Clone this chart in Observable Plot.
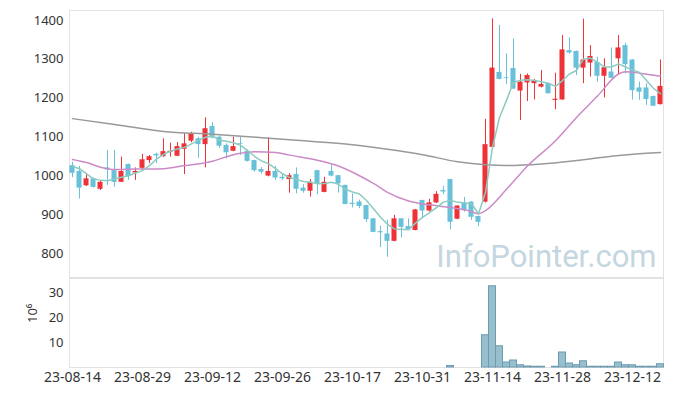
<!DOCTYPE html>
<html>
<head>
<meta charset="utf-8">
<script src="https://cdn.jsdelivr.net/npm/d3@7"></script>
<script src="https://cdn.jsdelivr.net/npm/@observablehq/plot@0.6"></script>
<style>
  html, body { margin: 0; padding: 0; background: #fff; }
  #chart { width: 673px; height: 396px; position: relative; overflow: hidden; }
  #chart svg { display: block; }
</style>
</head>
<body>
<div id="chart"></div>
<script>
// ---- data ----
const tickIdx = [0, 10, 20, 30, 40, 50, 60, 70, 80];
const tickLabels = ["23-08-14", "23-08-29", "23-09-12", "23-09-26", "23-10-17", "23-10-31", "23-11-14", "23-11-28", "23-12-12"];
const priceTicks = [800, 900, 1000, 1100, 1200, 1300, 1400];
const volTicks = [10, 20, 30];

const open  = [1026,1011,974,992,965,1020,1013,983,1029,1007,1019,1039,1055,1049,1060,1050,1068,1089,1095,1080,1127,1099,1078,1063,1083,1063,1039,1016,999,1011,996,990,1003,968,960,1013,957,1011,1000,975,929,932,923,889,856,850,831,889,869,859,936,909,930,962,990,888,930,932,895,932,1073,1266,1252,1276,1218,1239,1237,1228,1237,1194,1195,1322,1320,1277,1290,1292,1256,1267,1301,1335,1298,1226,1226,1204,1183];
const high  = [1035,1024,1006,994,988,1065,1065,1048,1030,1020,1055,1052,1058,1095,1084,1085,1109,1112,1099,1149,1137,1102,1082,1099,1099,1066,1040,1021,1098,1024,1005,1005,1020,977,990,1014,996,1028,1001,976,953,937,924,890,870,885,898,890,889,913,937,939,959,973,991,923,944,933,896,1145,1404,1387,1314,1352,1261,1262,1248,1271,1238,1264,1361,1355,1321,1403,1335,1305,1301,1329,1361,1341,1299,1241,1237,1205,1298];
const low   = [995,940,972,968,962,975,970,982,988,988,1012,1031,1031,1048,1048,1049,1003,1085,1045,1020,1095,1070,1043,1062,1052,1035,1009,1004,997,988,988,955,953,955,945,951,956,997,955,925,917,915,880,853,815,790,830,840,860,858,889,907,928,951,861,887,906,885,869,930,1070,1247,1235,1222,1142,1191,1195,1226,1210,1170,1194,1313,1258,1237,1254,1241,1200,1250,1258,1262,1195,1194,1181,1178,1182];
const close = [1006,968,992,970,983,1015,983,1011,998,1011,1041,1049,1051,1062,1063,1075,1082,1108,1080,1121,1097,1076,1059,1075,1081,1037,1013,1009,1011,994,992,1000,965,960,983,979,983,999,979,926,926,921,887,854,853,831,889,867,861,912,909,930,952,958,880,922,910,893,880,1080,1277,1248,1250,1223,1241,1258,1245,1235,1211,1197,1324,1316,1277,1298,1307,1256,1278,1251,1329,1286,1219,1215,1196,1179,1230];
// volume in millions (10^6)
const volume = [0,0,0,0,0,0,0,0,0,0,0,0,0,0,0,0,0,0,0,0,0,0,0,0,0,0,0,0,0,0,0,0,0,0,0,0,0,0,0,0,0,0,0,0,0,0,0,0,0,0,0,0,0,0,0.6,0,0,0,0,12.9,32.5,8.5,2.0,2.8,0.9,0.4,0.3,0.3,0,0.3,6.0,1.6,0.9,2.5,0.3,0.3,0.3,0.3,2.0,0.9,0.9,0.3,0.3,0.3,1.3];

const ma5 = [1024,1018,1005,992,988,987,992,996,1000,1007,1013,1026,1043,1055,1063,1069,1073,1082,1091,1099,1103,1091,1089,1085,1078,1065,1050,1038,1031,1018,1005,995,990,985,983,979,980,983,978,965,958,953,936,915,893,875,863,862,861,878,893,905,918,932,936,932,930,928,902,957,1073,1150,1194,1240,1246,1247,1245,1242,1238,1230,1245,1262,1271,1300,1303,1292,1280,1280,1288,1280,1272,1266,1245,1225,1211];
const ma20Idx = [0,2,4,6,9,13,16,20,22,24,26,29,31,35,38,41,43,45,48,51,54,57,58,59,62,65,69,72,75,78,79,81,84];
const ma20Val = [1042,1034,1022,1016,1017,1018,1026,1037,1049,1058,1062,1060,1053,1040,1025,1000,980,957,935,925,918,908,902,910,965,1025,1090,1150,1205,1262,1268,1264,1256];
const ma120Idx = [0,6,13,20,27,32,40,45,50,55,59,62,67,72,77,82,84];
const ma120Val = [1147,1132,1114,1107,1098,1091,1080,1068,1054,1036,1028,1026,1030,1039,1050,1058,1060];

// ---- styles ----
const UP = "#ee3338", DOWN = "#68c1d8";
const FONT = "'Noto Sans', 'DejaVu Sans', sans-serif";
const W = 673;
const xDomain = [-0.43, 84.43];

const candles = open.map((o, i) => ({i, o, h: high[i], l: low[i], c: close[i]}));
const vols = volume.map((v, i) => ({i, v})).filter(d => d.v > 0);
const ma5Data = ma5.map((v, i) => ({i, v}));
const ma20Data = ma20Idx.map((i, k) => ({i, v: ma20Val[k]}));
const ma120Data = ma120Idx.map((i, k) => ({i, v: ma120Val[k]}));
const crossMain = d3.cross(tickIdx, priceTicks);
const crossVol = d3.cross(tickIdx, volTicks);
const col = d => d.c >= d.o ? UP : DOWN;
const xFmt = d => tickLabels[tickIdx.indexOf(d)];
const hasAxisMarks = typeof Plot.axisX === "function";

const main = Plot.plot({
  width: W, height: 278,
  marginTop: 10, marginBottom: 1, marginLeft: 69, marginRight: 10,
  style: {fontFamily: FONT, fontSize: "13px", color: "#333", background: "#fff"},
  x: {domain: xDomain, axis: null},
  y: {domain: [737.9, 1425.4], ticks: priceTicks, tickSize: 0, tickPadding: 6, label: null, tickFormat: d => String(d)},
  marks: [
    Plot.frame({stroke: "#e2e2e2"}),
    Plot.dot(crossMain, {x: d => d[0], y: d => d[1], symbol: "plus", r: 2.2, fill: "#dddddd", stroke: null}),
    Plot.text(["InfoPointer.com"], {frameAnchor: "bottom-right", dx: -7, dy: -20, lineAnchor: "middle", textAnchor: "end", fontSize: 31, fontFamily: "Roboto, 'Noto Sans', sans-serif", fill: "#c4d6e0"}),
    Plot.ruleX(candles, {x: "i", y1: "l", y2: "h", stroke: col, strokeWidth: 1}),
    Plot.rect(candles, {x1: d => d.i - 0.36, x2: d => d.i + 0.36, y1: "o", y2: "c", fill: col}),
    Plot.line(ma120Data, {x: "i", y: "v", stroke: "#999999", strokeWidth: 1.5, curve: "monotone-x"}),
    Plot.line(ma20Data, {x: "i", y: "v", stroke: "#cc8ac7", strokeWidth: 1.5, curve: "monotone-x"}),
    Plot.line(ma5Data, {x: "i", y: "v", stroke: "#8ccbc1", strokeWidth: 1.5})
  ]
});

const volMarks = [
  Plot.frame({stroke: "#e2e2e2"}),
  Plot.dot(crossVol, {x: d => d[0], y: d => d[1], symbol: "plus", r: 2.2, fill: "#dddddd", stroke: null}),
  Plot.rect(vols, {x1: d => d.i - 0.5, x2: d => d.i + 0.5, y1: 0, y2: "v", fill: "#98bfcd", stroke: "#6d9cb1", strokeWidth: 1}),
  Plot.text(["10⁶"], {frameAnchor: "left", dx: -37, rotate: -90, fontSize: 13, fill: "#333"})
];
if (hasAxisMarks) {
  volMarks.push(Plot.axisX({ticks: tickIdx, tickFormat: xFmt, tickSize: 0, tickPadding: 5, fontSize: 14, label: null}));
  volMarks.push(Plot.axisY({ticks: volTicks, tickSize: 0, tickPadding: 6, fontSize: 13, label: null}));
}

const vol = Plot.plot({
  width: W, height: 118,
  marginTop: 0, marginBottom: 29, marginLeft: 69, marginRight: 10,
  style: {fontFamily: FONT, fontSize: hasAxisMarks ? "13px" : "13.5px", color: "#333", background: "#fff"},
  x: hasAxisMarks ? {domain: xDomain} : {domain: xDomain, ticks: tickIdx, tickFormat: xFmt, tickSize: 0, tickPadding: 5, label: null},
  y: hasAxisMarks ? {domain: [0, 35.6]} : {domain: [0, 35.6], ticks: volTicks, tickSize: 0, tickPadding: 6, label: null},
  marks: volMarks
});

const el = document.getElementById("chart");
el.appendChild(main);
el.appendChild(vol);
</script>
</body>
</html>
